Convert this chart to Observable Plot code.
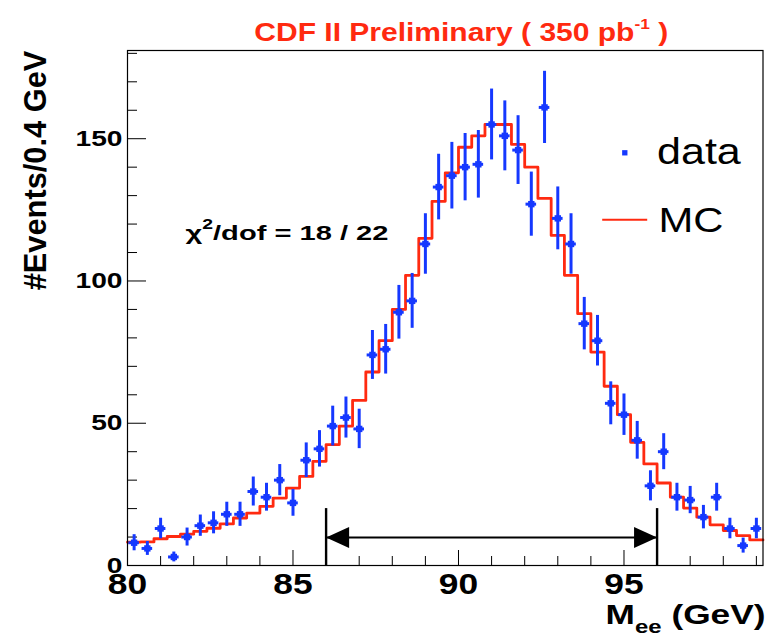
<!DOCTYPE html>
<html><head><meta charset="utf-8">
<script src="https://cdn.jsdelivr.net/npm/d3@7"></script>
<script src="https://cdn.jsdelivr.net/npm/@observablehq/plot@0.6"></script>
<style>body{margin:0;background:#fff}</style>
</head><body><div id="chart"></div>
<script>
// Histogram definition
const binLow = 80, binWidth = 0.4;
// Data counts per 0.4 GeV bin (80.0 - 99.2 GeV)
const dataCounts = [8,6,13,3,10,14,15,18,18,26,24,30,22,37,41,49,52,48,74,76,89,93,113,133,137,140,141,155,151,146,127,161,122,113,85,79,57,53,44,28,40,24,23,17,24,13,7,13];
// MC expectation per bin
const mcCounts = [8.2,8.3,9.4,10.2,11,12,13.1,14.6,16.7,18.4,20.8,23.7,27.2,31.3,36.6,42.5,49,58,68,79,90,102,115,128,138,147,151,155,155,148,140,129,116,102,88.5,75,63,53,43.3,35.7,29,24,20.2,17,14.3,12.3,10.5,9];
const xTicksMajor = [80,85,90,95];
const xTicksMinor = [81,82,83,84,86,87,88,89,91,92,93,94,96,97,98,99];
const yTicksMajor = [0,50,100,150];
const yTicksMinor = [10,20,30,40,60,70,80,90,110,120,130,140,160,170,180];
const windowLow = 86, windowHigh = 96, arrowLevel = 9.8, windowLineTop = 20;
const titleText = "CDF II Preliminary ( 350 pb-1 )";
const chiText = "χ2/dof = 18 / 22";
const xLabel = "Mee (GeV)";
const yLabel = "#Events/0.4 GeV";
const legendLabels = ["data", "MC"];

const blue = "#1538ff", red = "#ff2a10";

const bins = dataCounts.map((n, i) => ({center: binLow + binWidth * (i + 0.5), n, err: Math.sqrt(n)}));
const mcPath = mcCounts.map((v, i) => ({x: binLow + binWidth * i, v}))
  .concat([{x: binLow + binWidth * mcCounts.length, v: mcCounts[mcCounts.length - 1]}]);

const headRight = {draw(c) { c.moveTo(0, 0); c.lineTo(-23, -10.5); c.lineTo(-23, 10.5); c.closePath(); }};
const headLeft = {draw(c) { c.moveTo(0, 0); c.lineTo(23, -10.5); c.lineTo(23, 10.5); c.closePath(); }};
const legendLine = {draw(c) { c.moveTo(-22.5, 0); c.lineTo(22.5, 0); }};

const svg = Plot.plot({
  width: 767, height: 639,
  marginLeft: 127, marginRight: 4.5, marginTop: 50, marginBottom: 74,
  style: {fontFamily: "'Liberation Sans', Arial, sans-serif", background: "white", color: "black"},
  x: {domain: [binLow, binLow + binWidth * dataCounts.length]},
  y: {domain: [0, 181]},
  marks: [
    Plot.axisX({ticks: xTicksMajor, tickSize: -15, fill: "none", label: null, stroke: "black"}),
    Plot.axisX({ticks: xTicksMinor, tickSize: -9, fill: "none", label: null, stroke: "black"}),
    Plot.axisY({ticks: yTicksMajor, tickSize: -19, fill: "none", label: null, stroke: "black"}),
    Plot.axisY({ticks: yTicksMinor, tickSize: -10, fill: "none", label: null, stroke: "black"}),
    Plot.axisX({ticks: xTicksMajor, tickSize: 0, tickPadding: 8, label: null, fontSize: 29, fontWeight: "bold", fill: "black"}),
    Plot.axisY({ticks: yTicksMajor, tickSize: 0, tickPadding: 5, label: null, fontSize: 22, fontWeight: "bold", fill: "black"}),
    // window arrow
    Plot.ruleX([windowLow, windowHigh], {y1: 0, y2: windowLineTop, stroke: "black", strokeWidth: 2.4}),
    Plot.ruleY([arrowLevel], {x1: windowLow, x2: windowHigh, stroke: "black", strokeWidth: 2}),
    Plot.dot([windowLow], {x: d => d, y: arrowLevel, symbol: headLeft, fill: "black", stroke: "none"}),
    Plot.dot([windowHigh], {x: d => d, y: arrowLevel, symbol: headRight, fill: "black", stroke: "none"}),
    // MC
    Plot.line(mcPath, {x: "x", y: "v", curve: "step-after", stroke: red, strokeWidth: 2.8}),
    // data
    Plot.ruleX(bins, {x: "center", y1: d => d.n - d.err, y2: d => d.n + d.err, stroke: blue, strokeWidth: 3}),
    Plot.ruleY(bins, {y: "n", x1: d => d.center - 0.16, x2: d => d.center + 0.16, stroke: blue, strokeWidth: 3}),
    Plot.dot(bins, {x: "center", y: "n", r: 3.6, symbol: "square", fill: blue, stroke: "none"}),
    Plot.frame({stroke: "black", strokeWidth: 1.2}),
    // texts
    Plot.text([titleText], {frameAnchor: "top", textAnchor: "middle", dx: 16, dy: -10, lineAnchor: "bottom", fill: red, fontSize: 26, fontWeight: "bold"}),
    Plot.text([chiText], {frameAnchor: "top-left", textAnchor: "start", dx: 58, dy: 189, lineAnchor: "bottom", fontSize: 21, fontWeight: "bold", fill: "black"}),
    Plot.text([xLabel], {frameAnchor: "bottom-right", textAnchor: "end", dx: 2.5, dy: 58, lineAnchor: "bottom", fontSize: 28, fontWeight: "bold", fill: "black"}),
    Plot.text([yLabel], {frameAnchor: "left", textAnchor: "middle", rotate: -90, dx: -92, dy: -137.5, lineAnchor: "middle", fontSize: 28, fontWeight: "bold", fill: "black"}),
    // legend
    Plot.dot([legendLabels[0]], {frameAnchor: "top-right", dx: -138.2, dy: 102.3, r: 3, symbol: "square", fill: blue, stroke: "none"}),
    Plot.dot([legendLabels[1]], {frameAnchor: "top-right", dx: -138.3, dy: 169.3, symbol: legendLine, fill: "none", stroke: red, strokeWidth: 2}),
    Plot.text([legendLabels[0]], {frameAnchor: "top-right", textAnchor: "start", dx: -106, dy: 113, lineAnchor: "bottom", fontSize: 36, fill: "black"}),
    Plot.text([legendLabels[1]], {frameAnchor: "top-right", textAnchor: "start", dx: -104.5, dy: 181, lineAnchor: "bottom", fontSize: 36, fill: "black"})
  ]
});
document.getElementById("chart").append(svg);

// rich text (super/subscripts)
function rich(content, parts) {
  d3.select(svg).selectAll("text").filter(function() { return this.textContent === content; }).each(function() {
    const t = d3.select(this);
    t.text(null);
    for (const p of parts) {
      const s = t.append("tspan").text(p.t);
      if (p.size) s.attr("font-size", p.size);
      if (p.dy) s.attr("dy", p.dy);
    }
  });
}
rich(titleText, [{t: "CDF II Preliminary ( 350 pb"}, {t: "-1", size: 15, dy: -12}, {t: " )", dy: 12}]);
rich(chiText, [{t: "χ"}, {t: "2", size: 14, dy: -11}, {t: "/dof = 18 / 22", dy: 11}]);
rich(xLabel, [{t: "M"}, {t: "ee", size: 19, dy: 9}, {t: " (GeV)", dy: -9}]);

// horizontal stretch of the lettering (the reference is drawn with wide glyphs)
const targets = new Map([[titleText, 414], [chiText, 203], [xLabel, 160], [legendLabels[0], 85], [legendLabels[1], 65], [yLabel, 240]]);
const xTickLabels = new Set(xTicksMajor.map(String));
svg.querySelectorAll("text").forEach(el => {
  const content = el.textContent;
  const tr = el.getAttribute("transform") || "";
  const x = parseFloat(el.getAttribute("x")) || 0;
  let sx = 1.28, sy = 1;
  if (targets.has(content)) {
    const w = el.getBBox().width;
    sx = targets.get(content) / w;
  } else if (xTickLabels.has(content)) sx = 1.22;
  if (content === yLabel) sy = 1.15;
  el.setAttribute("transform", `${tr} translate(${x},0) scale(${sx},${sy}) translate(${-x},0)`);
});
</script>
</body></html>
